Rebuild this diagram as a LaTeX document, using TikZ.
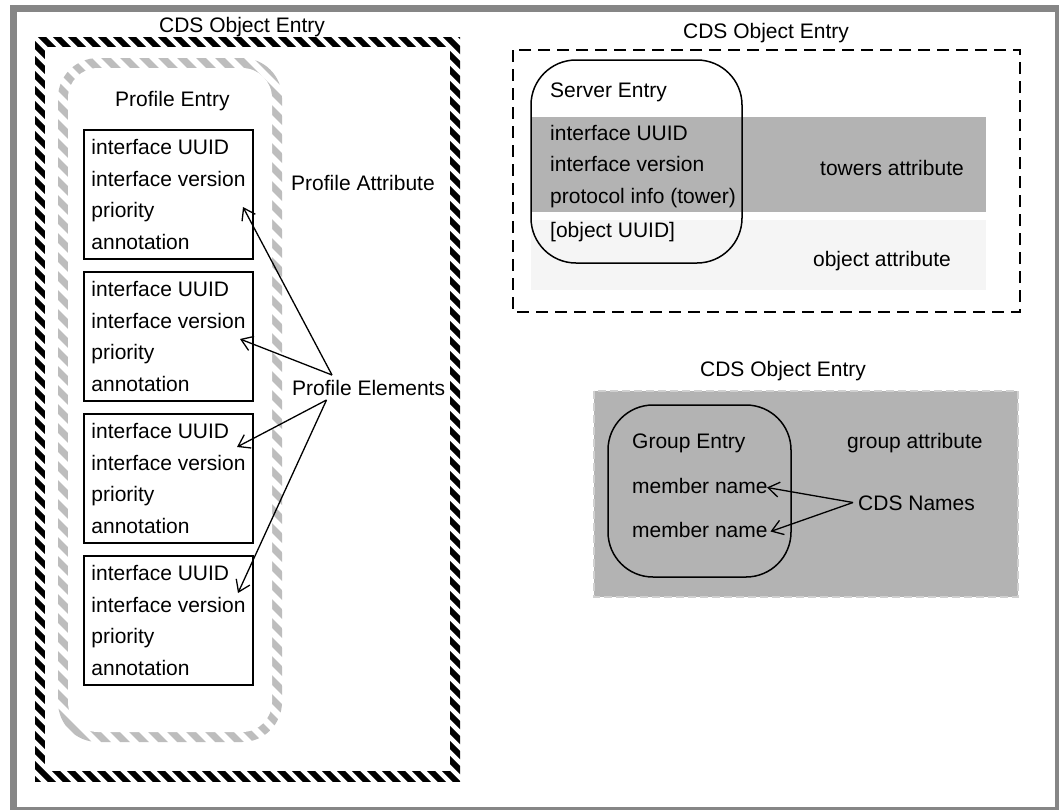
\documentclass[tikz,border=0pt]{standalone}
\usepackage{fontspec}
\setmainfont{Liberation Sans}
\usetikzlibrary{arrows.meta}
\definecolor{framegray}{HTML}{868686}
\definecolor{bandgray}{HTML}{B3B3B3}
\definecolor{lightband}{HTML}{F5F5F5}
\definecolor{stripegray}{HTML}{BDBDBD}
\definecolor{dashgray}{HTML}{D0D0D0}
\begin{document}
\begin{tikzpicture}[x=1pt,y=-1pt, font=\fontsize{21}{31.7}\selectfont,
  txt/.style={inner sep=0pt, anchor=base west},
  ctxt/.style={inner sep=0pt, anchor=base},
  elembox/.style={draw, line width=1.5pt, minimum width=169pt, minimum height=129pt, align=left, inner sep=0pt},
  roundbox/.style={draw, line width=1.5pt, rounded corners=45pt, inner sep=0pt},
  arr/.style={line width=1.3pt, -{Straight Barb[length=11pt,width=15pt]}}
]
\useasboundingbox (0,0) rectangle (1059,809);
\clip (0,0) rectangle (1059,809);
\fill[white] (0,0) rectangle (1059,809);
\draw[framegray, line width=7pt] (13.5,8.5) rectangle (1058.5,810.5);

% left: profile attribute object (black hatched border)
\begin{scope}
  \clip (35,37) rectangle (460,781);
  \foreach \i in {-760,-745,...,470}
    \draw[black, line width=5.8pt] (\i,30) -- ++(760,760);
\end{scope}
\fill[white] (45,47) rectangle (450,771);
% grey hatched rounded border
\begin{scope}
  \clip[rounded corners=40pt] (58,58) rectangle (282,742);
  \foreach \i in {-700,-681,...,290}
    \draw[stripegray, line width=7pt] (\i,50) -- ++(700,700);
\end{scope}
\fill[white, rounded corners=30pt] (68,68) rectangle (272,732);

\node[ctxt] (title1) at (242,32.5) {CDS Object Entry};
\node[txt] (profentry) at (115,106.5) {Profile Entry};
\node[txt] (profattr) at (291,190.5) {Profile Attribute};
\node[txt] (profelem) at (292,395.5) {Profile Elements};

\node[elembox] (pe1) at (168.5,194.5) {interface UUID\\interface version\\priority\\annotation};
\node[elembox] (pe2) at (168.5,336.5) {interface UUID\\interface version\\priority\\annotation};
\node[elembox] (pe3) at (168.5,478.5) {interface UUID\\interface version\\priority\\annotation};
\node[elembox] (pe4) at (168.5,620.5) {interface UUID\\interface version\\priority\\annotation};

\coordinate (pa1) at (332,375);
\coordinate (pa2) at (326.5,400);
\coordinate (tip1) at (243,207);
\coordinate (tip2) at (240,339);
\coordinate (tip3) at (237,447);
\coordinate (tip4) at (238,593);
\draw[arr] (pa1) -- (tip1);
\draw[arr] (pa1) -- (tip2);
\draw[arr] (pa2) -- (tip3);
\draw[arr] (pa2) -- (tip4);

% top right: server entry
\fill[bandgray] (531,117) rectangle (986,212);
\fill[lightband] (531,220) rectangle (986,290);
\draw[dash pattern=on 12pt off 7pt, line width=1.3pt] (513,50) rectangle (1020,312);
\node[roundbox, minimum width=211pt, minimum height=203pt] (server) at (636.5,161.5) {};
\node[ctxt] (title2) at (766,38.5) {CDS Object Entry};
\node[txt] (srventry) at (550,97.5) {Server Entry};
\node[txt] (s1) at (550,140) {interface UUID};
\node[txt] (s2) at (550,171.5) {interface version};
\node[txt] (s3) at (550,203) {protocol info (tower)};
\node[txt] (s4) at (550,237.5) {[object UUID]};
\node[ctxt] (towers) at (892,175.5) {towers attribute};
\node[ctxt] (objattr) at (882,266) {object attribute};

% bottom right: group entry
\node[ctxt] (title3) at (783,376.5) {CDS Object Entry};
\fill[bandgray] (594,391) rectangle (1018,597);
\draw[dashgray, dash pattern=on 8pt off 4pt, line width=1.5pt] (594,391) rectangle (1018,597);
\node[roundbox, minimum width=183pt, minimum height=172pt] (group) at (699.5,491) {};
\node[txt] (grpentry) at (632,448.5) {Group Entry};
\node[txt] (grpattr) at (847,448.5) {group attribute};
\node[txt] (m1) at (632,493) {member name};
\node[txt] (m2) at (632,537) {member name};
\node[txt] (cdsnames) at (858,510) {CDS Names};
\coordinate (cn) at (853,502.5);
\coordinate (mt1) at (767,487.5);
\coordinate (mt2) at (770.5,531.5);
\draw[arr] (cn) -- (mt1);
\draw[arr] (cn) -- (mt2);
\end{tikzpicture}
\end{document}
